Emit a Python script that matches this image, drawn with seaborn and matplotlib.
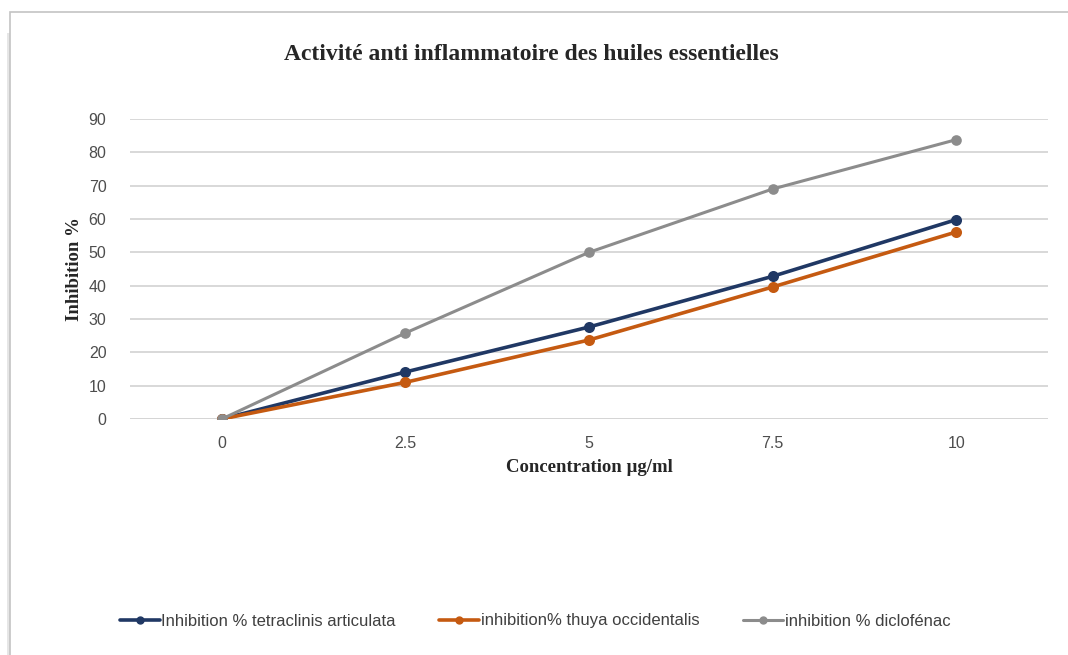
import matplotlib
matplotlib.use("Agg")
import matplotlib.pyplot as plt
from matplotlib.patches import Rectangle
from matplotlib.lines import Line2D
import seaborn as sns
import pandas as pd

# Concentrations (µg/ml) and inhibition percentages per sample
concentrations = ["0", "2.5", "5", "7.5", "10"]
tetraclinis = [0, 14.1, 27.6, 42.8, 59.8]
thuya = [0, 11.0, 23.7, 39.6, 56.1]
diclofenac = [0, 25.8, 50.0, 69.0, 83.8]

series_names = [
    "Inhibition % tetraclinis articulata",
    "inhibition% thuya occidentalis",
    "inhibition % diclofénac",
]
series_colors = ["#203864", "#C55A11", "#8C8C8C"]
series_widths = [2.6, 2.6, 2.2]

df = pd.concat(
    [
        pd.DataFrame({"conc": concentrations, "val": vals, "serie": name})
        for name, vals in zip(series_names, [tetraclinis, thuya, diclofenac])
    ],
    ignore_index=True,
)

sns.set_theme(style="white")
sans = ["Liberation Sans", "DejaVu Sans"]
serif = ["Liberation Serif", "DejaVu Serif"]
plt.rcParams["font.family"] = sans

W, H = 1068, 655
fig = plt.figure(figsize=(W / 100, H / 100), dpi=100)
fig.patch.set_facecolor("white")

# chart frame with a soft shadow on the left
fig.patches.append(Rectangle((7 / W, -0.05), 3 / W, 1.0, transform=fig.transFigure,
                             facecolor="#e6e6e6", edgecolor="none", zorder=-2))
fig.patches.append(Rectangle((10 / W, -0.05), 1.1, 1 - 12 / H + 0.05,
                             transform=fig.transFigure, facecolor="white",
                             edgecolor="#c4c4c4", linewidth=1.2, zorder=-1))

ax = fig.add_axes([130 / W, 1 - 419 / H, (1048 - 130) / W, (419 - 119) / H])
ax.set_facecolor("none")

for name, color, lw in zip(series_names, series_colors, series_widths):
    sub = df[df["serie"] == name]
    sns.pointplot(data=sub, x="conc", y="val", order=concentrations, color=color,
                  markers="o", linestyles="-", errorbar=None, ax=ax,
                  linewidth=lw, markersize=6)

ax.set_xlim(-0.5, len(concentrations) - 0.5)
ax.set_ylim(0, 90)
ax.set_yticks(range(0, 91, 10))
ax.yaxis.grid(True, color="#d6d6d6", linewidth=1.3)
ax.set_axisbelow(True)
for s in ax.spines.values():
    s.set_visible(False)
ax.axhline(0, color="#cccccc", linewidth=1.4, zorder=0.5)
ax.tick_params(axis="both", length=0, labelsize=11.5, labelcolor="#4d4d4d")
ax.tick_params(axis="x", pad=12)
ax.tick_params(axis="y", pad=17)

ax.set_xlabel("Concentration µg/ml", family=serif, fontweight="bold", fontsize=13.5,
              color="#262626", labelpad=6)
ax.set_ylabel("Inhibition %", family=serif, fontweight="bold", fontsize=13.5,
              color="#262626", labelpad=4)

fig.text(531 / W, 1 - 55 / H, "Activité anti inflammatoire des huiles essentielles",
         ha="center", va="center", family=serif, fontweight="bold", fontsize=17,
         color="#262626")

handles = [Line2D([0], [0], color=c, linewidth=lw, marker="o", markersize=5)
           for c, lw in zip(series_colors, series_widths)]
fig.legend(handles, series_names, loc="center", bbox_to_anchor=(535 / W, 1 - 621 / H),
           ncol=3, frameon=False, fontsize=12, handlelength=2.4, handletextpad=0.1,
           columnspacing=2.6, labelcolor="#404040")

fig.savefig("out.png", dpi=100, facecolor="white")
